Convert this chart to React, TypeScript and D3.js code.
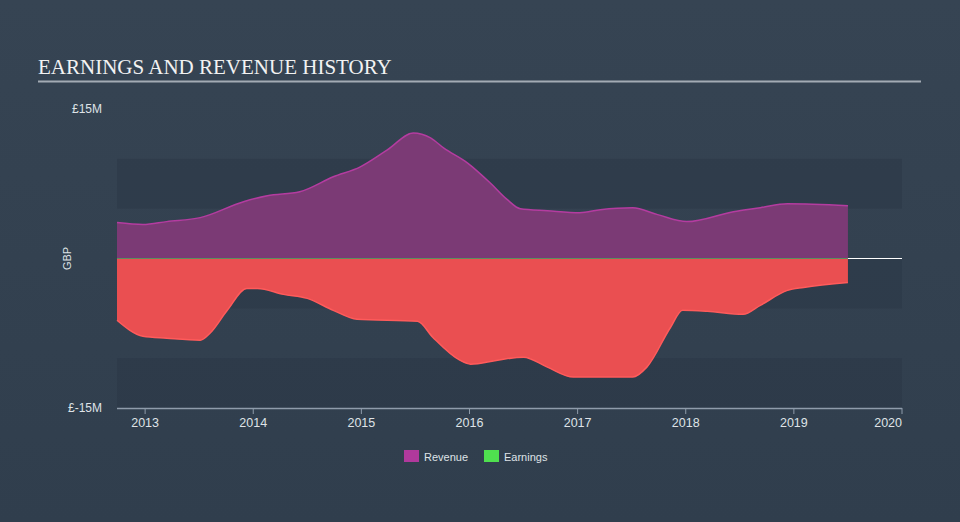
import * as d3 from "d3";
import { useEffect, useRef } from "react";

type Point = { t: number; v: number };

// fractional years, values in £M
const revenueDates = [
  2012.74, 2012.98, 2013.2, 2013.51, 2013.91, 2014.13, 2014.43, 2014.74, 2014.99, 2015.24,
  2015.48, 2015.64, 2015.76, 2015.98, 2016.19, 2016.35, 2016.47, 2016.72, 2017.02, 2017.21,
  2017.51, 2017.74, 2018.01, 2018.44, 2018.69, 2018.94, 2019.5,
];
const revenueValues = [
  3.6, 3.4, 3.7, 4.1, 5.7, 6.3, 6.7, 8.2, 9.2, 10.9,
  12.6, 12.1, 11.1, 9.6, 7.6, 5.9, 5.0, 4.8, 4.6, 4.9,
  5.1, 4.4, 3.7, 4.7, 5.1, 5.5, 5.3,
];
const earningsDates = [
  2012.74, 2012.98, 2013.2, 2013.51, 2013.6, 2013.76, 2013.94, 2014.04, 2014.28, 2014.5,
  2014.74, 2014.96, 2015.52, 2015.66, 2015.91, 2016.01, 2016.26, 2016.5, 2016.72, 2016.96,
  2017.51, 2017.64, 2017.86, 2017.97, 2018.2, 2018.53, 2018.69, 2018.94, 2019.09, 2019.5,
];
const earningsValues = [
  -6.2, -7.8, -8.0, -8.2, -7.5, -5.2, -3.0, -3.0, -3.6, -4.0,
  -5.2, -6.1, -6.3, -7.9, -10.2, -10.6, -10.2, -9.9, -10.9, -11.9,
  -11.9, -10.9, -6.9, -5.2, -5.3, -5.6, -4.7, -3.2, -2.9, -2.4,
];
const xTicks = [2013, 2014, 2015, 2016, 2017, 2018, 2019, 2020];
const yTickLabels = ["£15M", "£-15M"];
const bandStarts = [10, 0, -10];
const legendItems = [
  { label: "Revenue", color: "#b0399c" },
  { label: "Earnings", color: "#4fe04f" },
];

const App = () => {
  const ref = useRef<SVGSVGElement | null>(null);

  useEffect(() => {
    document.body.style.margin = "0";
    if (!ref.current) return;
    const svg = d3.select(ref.current);
    svg.selectAll("*").remove();
    const width = 960;
    const height = 522;
    const font = "'Liberation Sans', Arial, sans-serif";

    const defs = svg.append("defs");
    const grad = defs
      .append("linearGradient")
      .attr("id", "bg")
      .attr("x1", 0)
      .attr("y1", 0)
      .attr("x2", 0)
      .attr("y2", 1);
    grad.append("stop").attr("offset", 0).attr("stop-color", "#364453");
    grad.append("stop").attr("offset", 1).attr("stop-color", "#303e4d");

    svg.append("rect").attr("width", width).attr("height", height).attr("fill", "url(#bg)");

    const x = d3.scaleLinear().domain([2012.74, 2020]).range([117, 902]);
    const y = d3.scaleLinear().domain([-15, 15]).range([408, 109]);

    // alternating bands
    svg
      .append("g")
      .selectAll("rect")
      .data(bandStarts)
      .join("rect")
      .attr("x", x(2012.74))
      .attr("width", x(2020) - x(2012.74))
      .attr("y", (d) => y(d))
      .attr("height", (d) => y(d - 5) - y(d))
      .attr("fill", "#1f2a38")
      .attr("opacity", 0.2);

    // title
    svg
      .append("text")
      .attr("x", 38)
      .attr("y", 74)
      .attr("fill", "#f2f2f2")
      .attr("font-family", "'Liberation Serif', 'Times New Roman', serif")
      .attr("font-size", 21)
      .text("EARNINGS AND REVENUE HISTORY");
    svg
      .append("line")
      .attr("x1", 38)
      .attr("x2", 921)
      .attr("y1", 81.5)
      .attr("y2", 81.5)
      .attr("stroke", "#a3abb4")
      .attr("stroke-width", 2);

    const revenue: Point[] = revenueDates.map((t, i) => ({ t, v: revenueValues[i] }));
    const earnings: Point[] = earningsDates.map((t, i) => ({ t, v: earningsValues[i] }));

    const area = d3
      .area<Point>()
      .x((d) => x(d.t))
      .y0(y(0))
      .y1((d) => y(d.v))
      .curve(d3.curveMonotoneX);
    const line = d3
      .line<Point>()
      .x((d) => x(d.t))
      .y((d) => y(d.v))
      .curve(d3.curveMonotoneX);

    svg.append("path").datum(revenue).attr("d", area).attr("fill", "#7b3a75");
    svg
      .append("path")
      .datum(revenue)
      .attr("d", line)
      .attr("fill", "none")
      .attr("stroke", "#b43ca0")
      .attr("stroke-width", 1.5);

    svg.append("path").datum(earnings).attr("d", area).attr("fill", "#ea4f51");
    svg
      .append("path")
      .datum(earnings)
      .attr("d", line)
      .attr("fill", "none")
      .attr("stroke", "#ff5b5b")
      .attr("stroke-width", 1.5);

    // zero line
    const lastT = revenueDates[revenueDates.length - 1];
    svg
      .append("line")
      .attr("x1", x(2012.74))
      .attr("x2", x(lastT))
      .attr("y1", y(0))
      .attr("y2", y(0))
      .attr("stroke", "#5c8f5e")
      .attr("stroke-width", 1);
    svg
      .append("line")
      .attr("x1", x(lastT))
      .attr("x2", x(2020))
      .attr("y1", y(0))
      .attr("y2", y(0))
      .attr("stroke", "#ffffff")
      .attr("stroke-width", 1.2);

    // x axis
    const axis = svg.append("g");
    axis
      .append("line")
      .attr("x1", x(2012.74))
      .attr("x2", x(2020))
      .attr("y1", 408.5)
      .attr("y2", 408.5)
      .attr("stroke", "#8f9cab")
      .attr("stroke-width", 1.5);
    axis
      .selectAll("line.tick")
      .data(xTicks)
      .join("line")
      .attr("class", "tick")
      .attr("x1", (d) => x(d))
      .attr("x2", (d) => x(d))
      .attr("y1", 408)
      .attr("y2", 414)
      .attr("stroke", "#8f9cab");
    axis
      .selectAll("text")
      .data(xTicks)
      .join("text")
      .attr("x", (d) => x(d))
      .attr("y", 427)
      .attr("text-anchor", (d, i) => (i === xTicks.length - 1 ? "end" : "middle"))
      .attr("fill", "#dfe3e7")
      .attr("font-family", font)
      .attr("font-size", 12.5)
      .text((d) => String(d));

    // y labels
    svg
      .selectAll("text.ylab")
      .data(yTickLabels)
      .join("text")
      .attr("class", "ylab")
      .attr("x", 102)
      .attr("y", (d, i) => (i === 0 ? y(15) + 4 : y(-15) + 4))
      .attr("text-anchor", "end")
      .attr("fill", "#dfe3e7")
      .attr("font-family", font)
      .attr("font-size", 12)
      .text((d) => d);
    svg
      .append("text")
      .attr("transform", `translate(71,${y(0)}) rotate(-90)`)
      .attr("text-anchor", "middle")
      .attr("fill", "#dfe3e7")
      .attr("font-family", font)
      .attr("font-size", 11)
      .text("GBP");

    // legend
    const legend = svg.append("g").attr("transform", "translate(404,450)");
    const offsets = [0, 80];
    legendItems.forEach((item, i) => {
      const g = legend.append("g").attr("transform", `translate(${offsets[i]},0)`);
      g.append("rect").attr("width", 15).attr("height", 12).attr("fill", item.color);
      g.append("text")
        .attr("x", 20)
        .attr("y", 10.5)
        .attr("fill", "#dfe3e7")
        .attr("font-family", font)
        .attr("font-size", 11)
        .text(item.label);
    });
  }, []);

  return <svg ref={ref} width={960} height={522} style={{ display: "block" }}></svg>;
};

export default App;
